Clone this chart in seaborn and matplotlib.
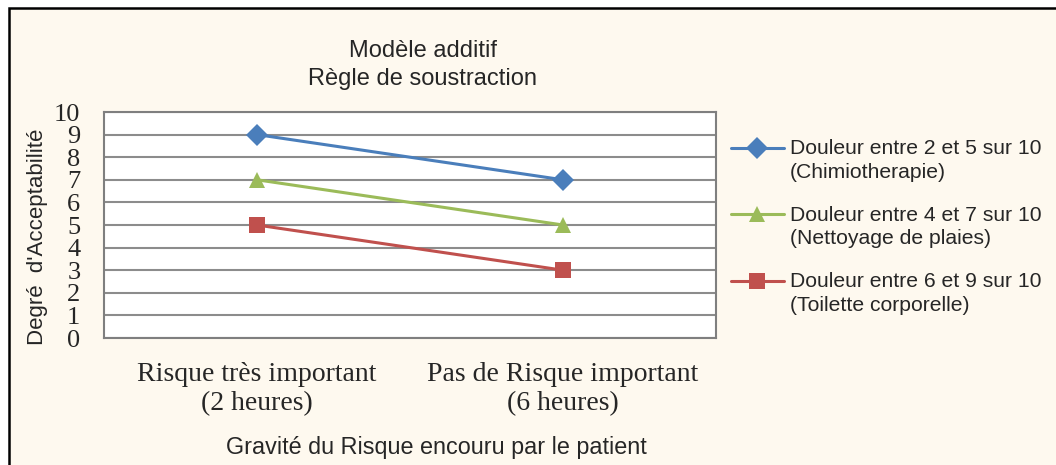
import numpy as np
import pandas as pd
import matplotlib
matplotlib.use("Agg")
import matplotlib.pyplot as plt
from matplotlib.patches import Rectangle
from matplotlib.legend_handler import HandlerLine2D
import seaborn as sns

# ==============================
# Data
# ==============================
categories = ["Risque très important\n(2 heures)", "Pas de Risque important\n(6 heures)"]
series_names = [
    "Douleur entre 2 et 5 sur 10\n(Chimiotherapie)",
    "Douleur entre 4 et 7 sur 10\n(Nettoyage de plaies)",
    "Douleur entre 6 et 9 sur 10\n(Toilette corporelle)",
]
chimio = [9, 7]
nettoyage = [7, 5]
toilette = [5, 3]
y_ticks = list(range(0, 11))

colors = ["#4A7EBB", "#9BBB59", "#C0504D"]
markers = ["D", "^", "s"]
bg = "#FEF9EF"

df = pd.DataFrame({
    "cat": categories * 3,
    "val": chimio + nettoyage + toilette,
    "serie": [s for s in series_names for _ in categories],
})


# legend handle lined up with the first text line (like Excel)
class FirstLineHandler(HandlerLine2D):
    def create_artists(self, legend, orig_handle, xdescent, ydescent,
                       width, height, fontsize, trans):
        arts = super().create_artists(legend, orig_handle, xdescent, ydescent,
                                      width, height, fontsize, trans)
        for a in arts:
            a.set_ydata(np.asarray(a.get_ydata(), dtype=float) + 0.6 * fontsize)
        return arts


sns.set_style("white")
plt.rcParams["font.family"] = ["Liberation Sans", "DejaVu Sans"]

fig = plt.figure(figsize=(10.56, 4.65), dpi=100, facecolor="white")

# outer chart area (cream, black border, runs off right/bottom)
fig.patches.append(Rectangle((9 / 1056, -0.2), 1.2, 1.2 - 8 / 465,
                             transform=fig.transFigure, facecolor=bg,
                             edgecolor="black", linewidth=1.8, zorder=-5))

ax = fig.add_axes([104 / 1056, 1 - 338 / 465, 612 / 1056, 226 / 465])
ax.set_facecolor("white")

sns.lineplot(
    data=df, x="cat", y="val", hue="serie", style="serie",
    palette=colors, markers=markers, dashes=False,
    linewidth=2.2, markersize=11, markeredgewidth=0,
    sort=False, ax=ax,
)

ax.set_xlim(-0.5, 1.5)
ax.set_ylim(0, 10)
ax.set_yticks(y_ticks)
ax.set_xlabel("")
ax.set_ylabel("")
ax.yaxis.grid(True, color="#8C8C8C", linewidth=1.5)
ax.set_axisbelow(True)
for s in ax.spines.values():
    s.set_color("#7F7F7F")
    s.set_linewidth(1.5)

ax.tick_params(axis="y", length=0, pad=17)
ax.tick_params(axis="x", length=0, pad=17)
for lab in ax.get_yticklabels():
    lab.set_family(["Liberation Serif", "DejaVu Serif"])
    lab.set_fontsize(19)
    lab.set_ha("right")
for lab in ax.get_xticklabels():
    lab.set_family(["Liberation Serif", "DejaVu Serif"])
    lab.set_fontsize(20)
    lab.set_linespacing(1.25)

# legend outside to the right
handles, labels = ax.get_legend_handles_labels()
leg = ax.legend(
    handles, labels, loc="upper left",
    bbox_to_anchor=(731 / 1056, 1 - 139 / 465), bbox_transform=fig.transFigure,
    frameon=False, fontsize=15.2, handlelength=2.5, handletextpad=0.3,
    labelspacing=1.14, borderpad=0, borderaxespad=0,
    handler_map={h: FirstLineHandler() for h in handles},
)
for t in leg.get_texts():
    t.set_linespacing(1.3)

# titles and axis labels
fig.text(423 / 1056, 1 - 65 / 465, "Modèle additif\nRègle de soustraction",
         ha="center", va="center", fontsize=17, linespacing=1.3)
fig.text(38 / 1056, 1 - 237 / 465, "Degré  d'Acceptabilité", rotation=90,
         ha="center", va="center", fontsize=16)
fig.text(436 / 1056, 1 - 447 / 465, "Gravité du Risque encouru par le patient",
         ha="center", va="center", fontsize=16.8)

fig.savefig("out.png", dpi=100, facecolor="white")
